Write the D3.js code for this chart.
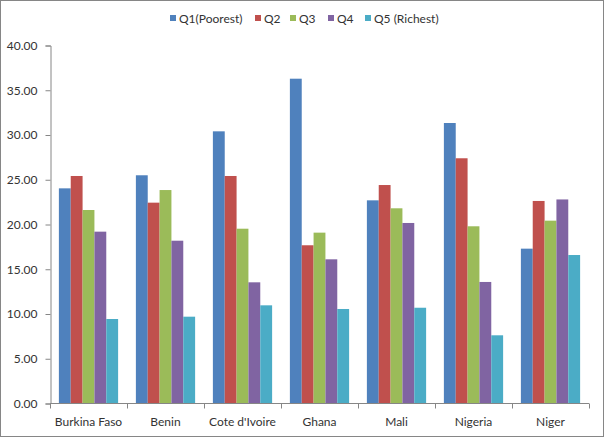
<!DOCTYPE html>
<html>
<head>
<meta charset="utf-8">
<script src="https://cdn.jsdelivr.net/npm/d3@7"></script>
<style>
  body { margin: 0; background: #fff; }
  text { font-family: Lato, "Open Sans", sans-serif; fill: #333; }
</style>
</head>
<body>
<script>
// data
const countries = ["Burkina Faso", "Benin", "Cote d'Ivoire", "Ghana", "Mali", "Nigeria", "Niger"];
const seriesNames = ["Q1(Poorest)", "Q2", "Q3", "Q4", "Q5 (Richest)"];
const q1 = [24.04, 25.50, 30.41, 36.29, 22.70, 31.34, 17.30];
const q2 = [25.42, 22.44, 25.42, 17.68, 24.41, 27.40, 22.63];
const q3 = [21.62, 23.85, 19.53, 19.09, 21.81, 19.80, 20.43];
const q4 = [19.20, 18.19, 13.54, 16.11, 20.17, 13.58, 22.80];
const q5 = [9.44, 9.70, 10.97, 10.56, 10.70, 7.62, 16.59];
const yTicks = [0, 5, 10, 15, 20, 25, 30, 35, 40];
const colors = ["#4F81BD", "#C0504D", "#9BBB59", "#8064A2", "#4BACC6"];

const series = [q1, q2, q3, q4, q5];
const width = 605, height = 438;

const svg = d3.select("body").append("svg")
    .attr("width", width)
    .attr("height", height);

// chart border
svg.append("rect")
    .attr("x", 0.5).attr("y", 0.5)
    .attr("width", width - 2).attr("height", height - 2)
    .attr("fill", "#fff")
    .attr("stroke", "#868686");

const x0 = d3.scaleBand().domain(countries).range([50, 589]).padding(0);
const x1 = d3.scaleBand().domain(d3.range(series.length))
    .range([0, x0.bandwidth()]).paddingInner(0).paddingOuter(0.75);
const y = d3.scaleLinear().domain([0, 40]).range([403.5, 45.5]);

// bars
const groups = svg.append("g").selectAll("g")
    .data(series)
    .enter().append("g")
    .attr("fill", (_, i) => colors[i]);

groups.each(function (vals, si) {
    d3.select(this).selectAll("rect")
        .data(vals)
        .enter().append("rect")
        .attr("x", (_, ci) => x0(countries[ci]) + x1(si))
        .attr("y", d => y(d))
        .attr("width", x1.bandwidth())
        .attr("height", d => y(0) - y(d));
});

// y axis
const yAxis = svg.append("g")
    .attr("transform", "translate(50.5,0)")
    .call(d3.axisLeft(y).tickValues(yTicks).tickFormat(d3.format(".2f")).tickSize(5).tickPadding(8));
yAxis.select(".domain").attr("stroke", "#868686");
yAxis.selectAll(".tick line").attr("stroke", "#868686");
yAxis.selectAll("text").style("font-size", "12px").attr("fill", "#333");

// x axis with ticks at the category boundaries
const xAxis = svg.append("g").attr("transform", "translate(0," + (y(0)) + ")");
xAxis.append("line")
    .attr("x1", 50).attr("x2", 589)
    .attr("stroke", "#868686");
const bounds = countries.map(c => x0(c)).concat([x0.range()[1]]);
xAxis.selectAll("line.tk")
    .data(bounds)
    .enter().append("line")
    .attr("class", "tk")
    .attr("x1", d => Math.round(d) + 0.5).attr("x2", d => Math.round(d) + 0.5)
    .attr("y1", 0).attr("y2", 5)
    .attr("stroke", "#868686");
xAxis.selectAll("text")
    .data(countries)
    .enter().append("text")
    .attr("x", d => x0(d) + x0.bandwidth() / 2)
    .attr("y", 22)
    .attr("text-anchor", "middle")
    .style("font-size", "12px")
    .text(d => d);

// legend
const legendX = [170, 255, 290, 328, 365];
const legend = svg.append("g").selectAll("g")
    .data(seriesNames)
    .enter().append("g")
    .attr("transform", (_, i) => "translate(" + legendX[i] + ",18)");
legend.append("rect")
    .attr("x", 0).attr("y", -3)
    .attr("width", 6).attr("height", 6)
    .attr("fill", (_, i) => colors[i]);
legend.append("text")
    .attr("x", 9).attr("y", 4.5)
    .style("font-size", "12px")
    .text(d => d);
</script>
</body>
</html>
